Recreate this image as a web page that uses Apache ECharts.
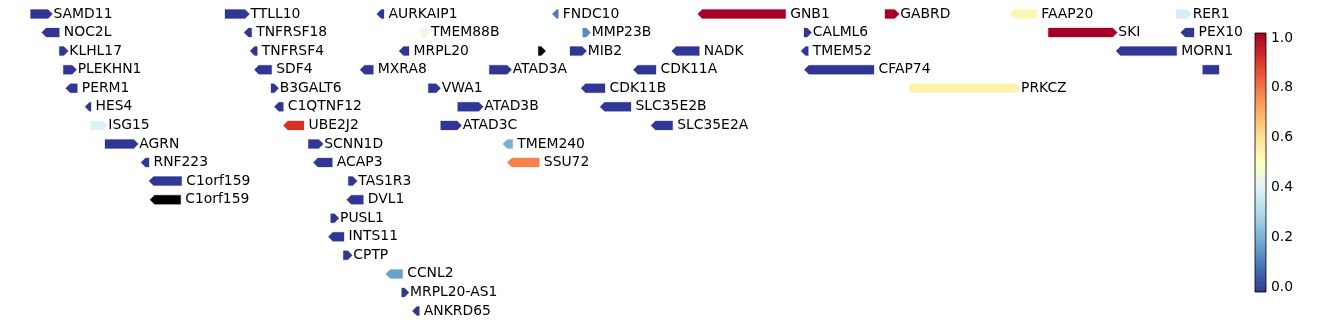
<!DOCTYPE html>
<html>
<head>
<meta charset="utf-8">
<script src="https://cdn.jsdelivr.net/npm/echarts@6/dist/echarts.min.js"></script>
<style>html,body{margin:0;padding:0;background:#fff;}#c{width:1338px;height:324px;}</style>
</head>
<body>
<div id="c"></div>
<script>
// Gene track data (positions in kb)
const geneNames = ['SAMD11','TTLL10','AURKAIP1','FNDC10','GNB1','GABRD','FAAP20','RER1',
  'NOC2L','TNFRSF18','TMEM88B','MMP23B','CALML6','SKI','PEX10',
  'KLHL17','TNFRSF4','MRPL20','','MIB2','NADK','TMEM52','MORN1',
  'PLEKHN1','SDF4','MXRA8','ATAD3A','CDK11A','CFAP74','',
  'PERM1','B3GALT6','VWA1','CDK11B','PRKCZ',
  'HES4','C1QTNF12','ATAD3B','SLC35E2B',
  'ISG15','UBE2J2','ATAD3C','SLC35E2A',
  'AGRN','SCNN1D','TMEM240',
  'RNF223','ACAP3','SSU72',
  'C1orf159','TAS1R3',
  'C1orf159','DVL1',
  'PUSL1','INTS11','CPTP','CCNL2','MRPL20-AS1','ANKRD65'];
const geneStart = [899.7,1152.5,1349.7,1578.0,1767.0,2010.5,2173.0,2388.8,
  914.2,1177.2,1407.3,1617.5,1905.2,2222.8,2394.9,
  937.1,1185.0,1378.7,1559.8,1601.0,1733.2,1901.3,2310.8,
  942.3,1190.6,1328.0,1496.1,1683.3,1905.6,2423.5,
  945.4,1212.3,1416.8,1615.3,2042.1,
  970.5,1216.6,1455.0,1640.0,
  977.9,1228.3,1432.9,1706.3,
  996.5,1260.8,1513.5,
  1043.3,1267.3,1519.5,
  1053.7,1312.8,
  1055.0,1310.7,
  1289.9,1286.8,1306.3,1361.4,1382.2,1396.0];
const geneEnd = [928.3,1184.4,1359.2,1585.8,1881.4,2029.1,2207.7,2409.2,
  937.1,1187.2,1419.0,1627.9,1915.2,2312.5,2412.2,
  948.8,1194.5,1391.7,1569.4,1622.7,1769.1,1910.8,2389.7,
  959.7,1213.2,1345.3,1525.2,1712.8,1996.2,2444.7,
  960.5,1222.3,1432.9,1646.5,2186.0,
  978.3,1228.3,1488.3,1680.3,
  999.5,1255.2,1460.2,1734.5,
  1039.8,1280.3,1526.5,
  1053.7,1292.0,1561.1,
  1096.2,1324.5,
  1094.9,1332.3,
  1300.7,1307.2,1318.0,1383.5,1391.7,1405.1];
const geneStrand = [1,1,-1,-1,-1,1,-1,1,
  -1,-1,1,1,1,1,-1,
  1,-1,-1,1,1,-1,-1,-1,
  1,-1,-1,1,-1,-1,0,
  -1,1,1,-1,1,
  -1,-1,1,-1,
  1,-1,1,-1,
  1,1,-1,
  -1,-1,-1,
  -1,1,
  -1,-1,
  1,-1,1,-1,1,-1];
const geneRow = [0,0,0,0,0,0,0,0,
  1,1,1,1,1,1,1,
  2,2,2,2,2,2,2,2,
  3,3,3,3,3,3,3,
  4,4,4,4,4,
  5,5,5,5,
  6,6,6,6,
  7,7,7,
  8,8,8,
  9,9,
  10,10,
  11,12,13,14,15,16];
const geneValue = [0,0,0,0.115,1,1,0.53,0.38,
  0,0,0.44,0.14,0,1,0,
  0,0,0,null,0,0,0,0,
  0,0,0,0,0,0,0,
  0,0,0,0,0.54,
  0,0,0,0,
  0.39,0.9,0,0,
  0,0,0.21,
  0,0,0.77,
  0,0,
  null,0,
  0,0,0,0.18,0,0];
const cbarTicks = [0, 0.2, 0.4, 0.6, 0.8, 1.0];

// RdYlBu_r colormap stops
const cmap = ['#313695','#4575b4','#74add1','#abd9e9','#e0f3f8','#ffffbf','#fee090','#fdae61','#f46d43','#d73027','#a50026'];
function hex2rgb(h){return [parseInt(h.slice(1,3),16),parseInt(h.slice(3,5),16),parseInt(h.slice(5,7),16)];}
function cmapColor(v){
  if (v === null || v === undefined || isNaN(v)) return '#000000';
  v = Math.max(0, Math.min(1, v));
  const p = v * (cmap.length - 1);
  const i = Math.min(Math.floor(p), cmap.length - 2);
  const t = p - i;
  const a = hex2rgb(cmap[i]), b = hex2rgb(cmap[i+1]);
  const c = a.map((x,k)=>Math.round(x + (b[k]-x)*t));
  return 'rgb(' + c.join(',') + ')';
}

const FONT = 'DejaVu Sans';
const geneData = geneNames.map((n,i)=>[geneStart[i], geneEnd[i], geneStrand[i], geneRow[i]]);

const chart = echarts.init(document.getElementById('c'), null, {renderer:'canvas'});
chart.setOption({
  animation: false,
  backgroundColor: '#ffffff',
  grid: [
    {left: 0, top: 0, width: 1240, height: 324},
    {left: 1255, top: 33, width: 11, height: 259}
  ],
  xAxis: [
    {gridIndex: 0, type: 'value', min: 860, max: 2472, show: false},
    {gridIndex: 1, type: 'value', min: 0, max: 1, show: false}
  ],
  yAxis: [
    {gridIndex: 0, type: 'value', min: -0.754, max: 16.70, inverse: true, show: false},
    {gridIndex: 1, type: 'value', min: -0.02, max: 1.02, position: 'right',
      splitLine: {show: false},
      axisLine: {show: false},
      axisTick: {show: true, length: 3.5, lineStyle: {color: '#000', width: 0.8}, customValues: cbarTicks},
      axisLabel: {show: true, margin: 5, color: '#000', fontSize: 13.9, fontFamily: FONT,
        customValues: cbarTicks, formatter: v => v.toFixed(1)}
    }
  ],
  series: [
    {
      type: 'custom',
      xAxisIndex: 0, yAxisIndex: 0,
      clip: false,
      data: geneData,
      renderItem: function(params, api){
        const idx = params.dataIndex;
        const s = api.coord([api.value(0), api.value(3)]);
        const e = api.coord([api.value(1), api.value(3)]);
        const strand = api.value(2);
        const h = 9, y = s[1], x0 = s[0], x1 = e[0];
        const head = Math.min(4.5, x1 - x0);
        let pts;
        if (strand > 0) pts = [[x0,y-h/2],[x1-head,y-h/2],[x1,y],[x1-head,y+h/2],[x0,y+h/2]];
        else if (strand < 0) pts = [[x1,y-h/2],[x0+head,y-h/2],[x0,y],[x0+head,y+h/2],[x1,y+h/2]];
        else pts = [[x0,y-h/2],[x1,y-h/2],[x1,y+h/2],[x0,y+h/2]];
        const col = cmapColor(geneValue[idx]);
        const children = [{type:'polygon', shape:{points:pts}, style:{fill: col, stroke: col, lineWidth: 0.3}}];
        const name = geneNames[idx];
        if (name) {
          children.push({type:'text', style:{text: name, x: x1 + (strand > 0 ? 1 : 4.5), y: y,
            align:'left', verticalAlign:'middle', textAlign:'left', textVerticalAlign:'middle',
            fontSize: 13.9, fontFamily: FONT, fill:'#000'}});
        }
        return {type:'group', children};
      }
    },
    {
      type: 'custom',
      xAxisIndex: 1, yAxisIndex: 1,
      data: [[0, 0]],
      renderItem: function(params, api){
        const cs = params.coordSys;
        const stops = cmap.map((c,i)=>({offset: i/(cmap.length-1), color: c}));
        return {type:'rect', shape:{x: cs.x, y: cs.y, width: cs.width, height: cs.height},
          style:{fill:{type:'linear', x:0, y:1, x2:0, y2:0, colorStops: stops}, stroke:'#000', lineWidth: 0.8}};
      }
    }
  ]
});
</script>
</body>
</html>
